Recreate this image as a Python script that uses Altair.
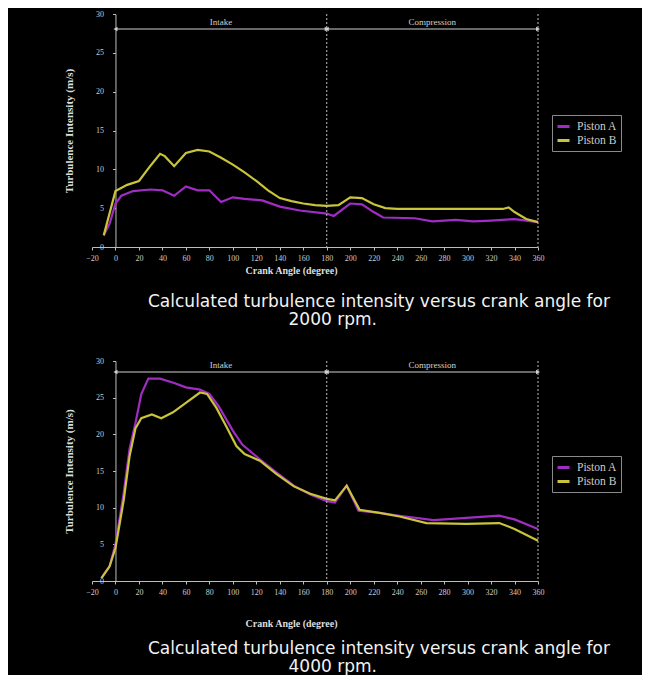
import altair as alt
import pandas as pd

series_names = ["Piston A", "Piston B"]
series_colors = ["#a02cc4", "#c9c43a"]

# 2000 rpm
angle_2000_a = [-10, -5, 0, 5, 15, 30, 40, 50, 60, 70, 80, 90, 100, 110, 125, 140, 157, 180, 186, 200, 210, 220, 228, 255, 270, 290, 305, 320, 340, 350, 360]
ti_2000_a = [1.5, 3.0, 5.6, 6.6, 7.2, 7.4, 7.3, 6.6, 7.8, 7.3, 7.3, 5.8, 6.4, 6.2, 6.0, 5.2, 4.7, 4.3, 4.0, 5.6, 5.5, 4.5, 3.8, 3.7, 3.3, 3.5, 3.3, 3.4, 3.6, 3.4, 3.2]
angle_2000_b = [-10, 0, 10, 20, 30, 38, 42, 50, 60, 70, 80, 90, 100, 110, 120, 130, 140, 150, 160, 170, 180, 190, 200, 210, 220, 230, 240, 330, 335, 340, 350, 360]
ti_2000_b = [1.5, 7.2, 8.0, 8.5, 10.5, 12.0, 11.7, 10.4, 12.1, 12.5, 12.3, 11.5, 10.6, 9.6, 8.5, 7.3, 6.3, 5.9, 5.6, 5.4, 5.3, 5.4, 6.4, 6.3, 5.5, 5.0, 4.9, 4.9, 5.1, 4.5, 3.6, 3.2]

# 4000 rpm
angle_4000_a = [-12, -5, 0, 7, 12, 17, 22, 28, 38, 50, 60, 72, 80, 88, 100, 108, 123, 137, 152, 166, 180, 187, 197, 207, 225, 242, 271, 299, 327, 340, 360]
ti_4000_a = [0.4, 2.0, 5.0, 12.0, 18.0, 21.5, 25.5, 27.6, 27.6, 27.0, 26.4, 26.1, 25.5, 23.8, 20.5, 18.6, 16.6, 14.8, 13.0, 11.8, 10.9, 10.7, 13.0, 9.6, 9.3, 8.9, 8.3, 8.6, 8.9, 8.4, 7.1]
angle_4000_b = [-12, -5, 0, 7, 12, 17, 22, 31, 39, 49, 60, 72, 78, 86, 95, 103, 110, 123, 137, 152, 166, 180, 187, 197, 208, 225, 242, 265, 299, 327, 340, 360]
ti_4000_b = [0.4, 2.0, 4.5, 11.0, 17.0, 20.8, 22.2, 22.7, 22.2, 23.0, 24.3, 25.7, 25.5, 23.6, 20.9, 18.4, 17.3, 16.4, 14.6, 12.9, 11.9, 11.2, 11.0, 13.0, 9.7, 9.3, 8.8, 7.9, 7.8, 7.9, 7.1, 5.5]

x_ticks = list(range(-20, 361, 20))
y_ticks = [0, 5, 10, 15, 20, 25, 30]

phase_names = ["Intake", "Compression"]
phase_start = [0, 180]
phase_end = [180, 360]
marker_angles = [180, 360]

caption_line = "Calculated turbulence intensity versus crank angle for"
rpm_labels = ["2000 rpm.", "4000 rpm."]


def series_df(angles, values, name):
    return pd.DataFrame({"angle": angles, "ti": values, "series": name})


df_2000 = pd.concat([series_df(angle_2000_a, ti_2000_a, series_names[0]),
                     series_df(angle_2000_b, ti_2000_b, series_names[1])])
df_4000 = pd.concat([series_df(angle_4000_a, ti_4000_a, series_names[0]),
                     series_df(angle_4000_b, ti_4000_b, series_names[1])])

phase_df = pd.DataFrame({"phase": phase_names, "start": phase_start, "end": phase_end})
phase_df["mid"] = (phase_df["start"] + phase_df["end"]) / 2
marker_df = pd.DataFrame({"angle": marker_angles})

AX = "#bdbdbd"
SERIF = "Liberation Serif"
# zero-width space keeps the leading no-break spaces from being trimmed
INDENT = "\u200b" + "\u00a0" * 26


def panel(df, rpm, height, arrow_y, label_y, legend_y, x_title_pad, cap_offset, line_h):
    xs = alt.Scale(domain=[-20, 360], nice=False, zero=False)
    ys = alt.Scale(domain=[0, 30], nice=False)
    x_axis = alt.Axis(values=x_ticks, title="Crank Angle (degree)", titlePadding=x_title_pad,
                      titleX=199, labelFlush=False, labelOverlap=False)

    def X(field):
        return alt.X(field, scale=xs, axis=x_axis)

    lines = alt.Chart(df).mark_line(strokeWidth=2.2).encode(
        x=X("angle:Q"),
        y=alt.Y("ti:Q", scale=ys, axis=alt.Axis(values=y_ticks, title="Turbulence Intensity (m/s)",
                                              offset=-23.47, labelPadding=9, titlePadding=21,
                                              titleFontSize=11)),
        color=alt.Color("series:N", scale=alt.Scale(domain=series_names, range=series_colors),
                        legend=alt.Legend(title=None, orient="none", legendX=460, legendY=legend_y,
                                          symbolType="stroke", symbolStrokeWidth=3, symbolSize=144,
                                          labelFont=SERIF, labelFontSize=11.5, labelColor="#cccccc",
                                          strokeColor="#8a8a8a", padding=4, rowPadding=0,
                                          symbolOpacity=1, labelOffset=6)),
    )
    rules = alt.Chart(marker_df).mark_rule(color=AX, strokeDash=[2, 2], strokeWidth=1).encode(
        x=X("angle:Q"))
    arrow = alt.Chart(phase_df).mark_rule(color="#d0d0d0", strokeWidth=1).encode(
        x=X("start:Q"), x2="end:Q", y=alt.value(arrow_y))
    head_l = alt.Chart(phase_df).mark_point(shape="triangle-left", filled=True, size=22,
                                            color="#d0d0d0", opacity=1).encode(
        x=X("start:Q"), y=alt.value(arrow_y))
    head_r = alt.Chart(phase_df).mark_point(shape="triangle-right", filled=True, size=22,
                                            color="#d0d0d0", opacity=1).encode(
        x=X("end:Q"), y=alt.value(arrow_y))
    labels = alt.Chart(phase_df).mark_text(font=SERIF, fontSize=9, color="#d0d0d0").encode(
        x=X("mid:Q"), y=alt.value(label_y), text="phase:N")
    return alt.layer(lines, rules, arrow, head_l, head_r, labels).properties(
        width=446, height=height,
        title=alt.TitleParams(text=[caption_line, INDENT + rpm], orient="bottom", anchor="start",
                              frame="group", dx=56, font="DejaVu Sans", fontSize=17,
                              fontWeight="normal", color="#f2f2f2", lineHeight=line_h,
                              offset=cap_offset),
    )


top = panel(df_2000, rpm_labels[0], 233, 15, 8, 101, 3, 19, 18)
bottom = panel(df_4000, rpm_labels[1], 220, 11, 4, 95, 22, 13, 18)

chart = alt.vconcat(top, bottom, spacing=29).resolve_legend(color="independent").properties(
    background="black",
    padding={"left": 55, "top": 2, "right": 20, "bottom": 0},
).configure_view(stroke=None).configure_axis(
    domainColor=AX, tickColor=AX, labelColor="#cccccc", titleColor="#dddddd",
    labelFont=SERIF, labelFontSize=8, titleFont=SERIF, titleFontSize=10,
    titleFontWeight="bold", grid=False, tickSize=3, labelPadding=4,
).configure_axisX(labelOverlap=False, labelFlush=False)

chart.save("out.html", embed_options={"renderer": "svg", "actions": False})
